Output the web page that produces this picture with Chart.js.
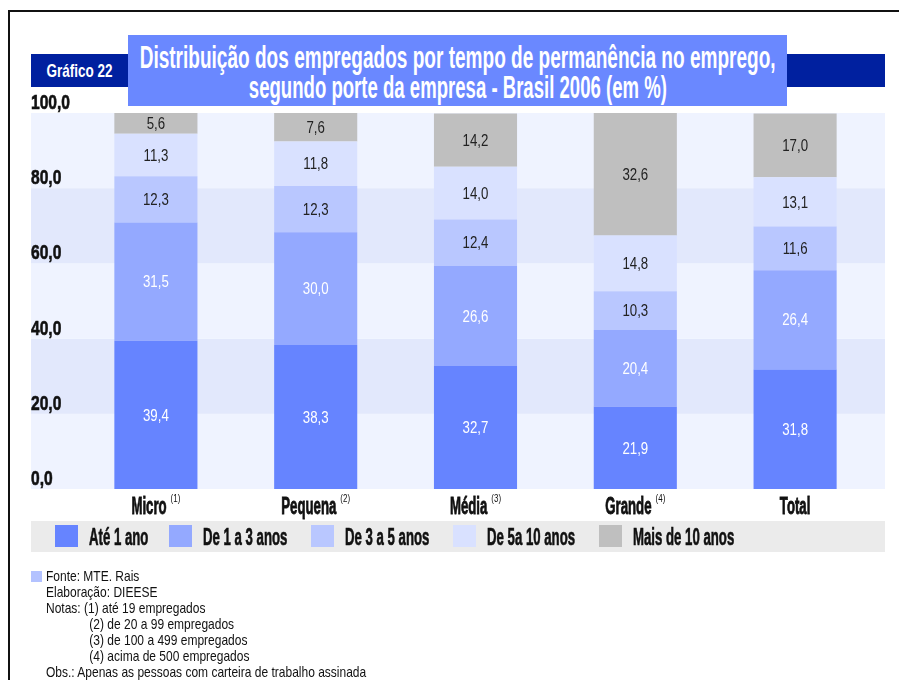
<!DOCTYPE html>
<html><head><meta charset="utf-8">
<script src="https://cdn.jsdelivr.net/npm/chart.js@4.4.1/dist/chart.umd.min.js"></script>
<style>
html,body{margin:0;padding:0;background:#fff;width:899px;height:680px;overflow:hidden;}
#wrap{position:relative;width:899px;height:680px;}
canvas{position:absolute;left:0;top:0;}
#frame{position:absolute;left:8px;top:10px;width:900px;height:700px;border-left:2px solid #111;border-top:2px solid #111;}
.ls{font-family:"Liberation Sans",Arial,sans-serif;}
#gbox{position:absolute;left:31px;top:54px;width:97px;height:33px;background:#00209f;color:#fff;font-weight:bold;font-size:18px;line-height:33px;}
#rbox{position:absolute;left:787px;top:54px;width:98px;height:33px;background:#00209f;}
#tbox{position:absolute;left:128px;top:35px;width:659px;height:71px;background:#6a88ff;color:#fff;font-weight:bold;}
.tl{position:absolute;left:0;display:flex;justify-content:center;font-size:31px;line-height:31px;white-space:nowrap;}
.fit{display:inline-block;transform-origin:50% 50%;white-space:nowrap;}
#sq{position:absolute;left:31px;top:571px;width:11px;height:11px;background:#b3c2ff;}
#notes{position:absolute;left:46px;top:568px;font-size:15px;line-height:16px;color:#111;white-space:pre;transform:scaleX(0.8);transform-origin:0 0;}
</style>
</head><body>
<div id="wrap">
<canvas id="c" width="899" height="680"></canvas>
<div id="frame"></div>
<div id="gbox" class="ls"><div class="tl" style="width:97px;top:0;line-height:33px;font-size:19px"><span class="fit" data-w="66">Gráfico 22</span></div></div>
<div id="rbox"></div>
<div id="tbox" class="ls">
  <div class="tl" style="top:7px;width:659px"><span class="fit" data-w="636">Distribuição dos empregados por tempo de permanência no emprego,</span></div>
  <div class="tl" style="top:37px;width:659px"><span class="fit" data-w="418">segundo porte da empresa - Brasil 2006 (em %)</span></div>
</div>
<div id="sq"></div>
<div id="notes" class="ls">Fonte: MTE. Rais
Elaboração: DIEESE
Notas: (1) até 19 empregados
             (2) de 20 a 99 empregados
             (3) de 100 a 499 empregados
             (4) acima de 500 empregados
Obs.: Apenas as pessoas com carteira de trabalho assinada</div>
</div>
<script>
const categories = ['Micro','Pequena','Média','Grande','Total'];
const categoryNotes = ['(1)','(2)','(3)','(4)',''];
const seriesNames = ['Até 1 ano','De 1 a 3 anos','De 3 a 5 anos','De 5a 10 anos','Mais de 10 anos'];
const ate1ano   = [39.4, 38.3, 32.7, 21.9, 31.8];
const de1a3anos = [31.5, 30.0, 26.6, 20.4, 26.4];
const de3a5anos = [12.3, 12.3, 12.4, 10.3, 11.6];
const de5a10anos= [11.3, 11.8, 14.0, 14.8, 13.1];
const mais10anos= [5.6, 7.6, 14.2, 32.6, 17.0];
const yTicks = [0, 20, 40, 60, 80, 100];

const seriesColors = ['#6684ff','#94a9ff','#b9c7ff','#d9e1ff','#bfbfbf'];
const labelColors = ['#ffffff','#ffffff','#222222','#222222','#222222'];
const FONT = '"Liberation Sans",Arial,sans-serif';

document.querySelectorAll('.fit').forEach(function(el){
  const w = el.getBoundingClientRect().width;
  const target = parseFloat(el.dataset.w);
  el.style.transform = 'scaleX(' + (target / w) + ')';
});

function fmt(v){ return v.toFixed(1).replace('.', ','); }

function measure(ctx, s, font){
  ctx.save(); ctx.font = font; const w = ctx.measureText(s).width; ctx.restore(); return w;
}
function txt(ctx, s, x, y, font, color, align, sx, sy, base, stroke){
  ctx.save();
  ctx.font = font;
  ctx.fillStyle = color;
  ctx.textAlign = align || 'left';
  ctx.textBaseline = base || 'middle';
  ctx.translate(x, y);
  ctx.scale(sx || 1, sy || 1);
  ctx.fillText(s, 0, 0);
  if (stroke){ ctx.strokeStyle = color; ctx.lineWidth = stroke; ctx.strokeText(s, 0, 0); }
  ctx.restore();
}

const PLOT_L = 31, PLOT_R = 885;

const bandsPlugin = {
  id: 'bands',
  beforeDatasetsDraw(chart){
    const ctx = chart.ctx, y = chart.scales.y;
    for (let i = 0; i < yTicks.length - 1; i++){
      const y0 = y.getPixelForValue(yTicks[i]);
      const y1 = y.getPixelForValue(yTicks[i+1]);
      ctx.fillStyle = (i % 2 === 0) ? '#eff3ff' : '#e2e8fc';
      ctx.fillRect(PLOT_L, y1, PLOT_R - PLOT_L, y0 - y1);
    }
  }
};

const overlayPlugin = {
  id: 'overlay',
  afterDatasetsDraw(chart){
    const ctx = chart.ctx, y = chart.scales.y, x = chart.scales.x;
    // y tick labels (sit just above their gridline)
    yTicks.forEach(function(v){
      const py = y.getPixelForValue(v);
      txt(ctx, fmt(v), PLOT_L, py - 4, 'bold 20px ' + FONT, '#111', 'left', 0.78, 1.05, 'alphabetic', 0.6);
    });
    // data labels
    chart.data.datasets.forEach(function(ds, di){
      const meta = chart.getDatasetMeta(di);
      meta.data.forEach(function(bar, i){
        const cy = (bar.y + bar.base) / 2;
        txt(ctx, fmt(ds.data[i]), bar.x, cy + 1, '17px ' + FONT, labelColors[di], 'center', 0.78, 1.0);
      });
    });
    // category labels
    categories.forEach(function(c, i){
      const px = x.getPixelForValue(i);
      const mf = 'bold 22px ' + FONT, nf = '10px ' + FONT;
      const w1 = measure(ctx, c, mf) * 0.6;
      const note = categoryNotes[i];
      const w2 = note ? measure(ctx, note, nf) * 0.8 + 4 : 0;
      const start = px - (w1 + w2) / 2;
      txt(ctx, c, start, 514, mf, '#111', 'left', 0.6, 1.05, 'alphabetic', 0.8);
      if (note) txt(ctx, note, start + w1 + 4, 502, nf, '#111', 'left', 0.8, 1.1, 'alphabetic');
    });
    // legend
    ctx.fillStyle = '#ebebeb';
    ctx.fillRect(PLOT_L, 521, PLOT_R - PLOT_L, 31);
    const boxX = [55, 169, 311, 453, 599];
    seriesNames.forEach(function(n, i){
      ctx.fillStyle = seriesColors[i];
      ctx.fillRect(boxX[i], 525, 23, 22);
      txt(ctx, n, boxX[i] + 34, 545, 'bold 22px ' + FONT, '#111', 'left', 0.6, 1.06, 'alphabetic', 0.6);
    });
  }
};

const dataArrays = [ate1ano, de1a3anos, de3a5anos, de5a10anos, mais10anos];

new Chart(document.getElementById('c'), {
  type: 'bar',
  data: {
    labels: categories,
    datasets: dataArrays.map(function(d, i){
      return { label: seriesNames[i], data: d, backgroundColor: seriesColors[i], borderWidth: 0,
               barPercentage: 1, categoryPercentage: 0.52 };
    })
  },
  options: {
    responsive: false,
    animation: false,
    layout: { padding: { left: 76, right: 24, top: 113, bottom: 191 } },
    plugins: { legend: { display: false }, tooltip: { enabled: false } },
    scales: {
      x: { stacked: true, display: false },
      y: { stacked: true, display: false, min: 0, max: 100 }
    }
  },
  plugins: [bandsPlugin, overlayPlugin]
});
</script>
</body></html>
